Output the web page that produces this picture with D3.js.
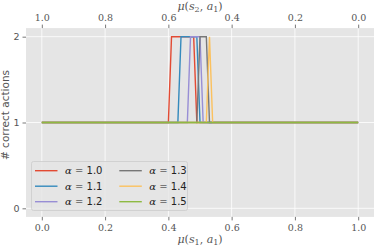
<!DOCTYPE html>
<html><head><meta charset="utf-8">
<script src="https://cdn.jsdelivr.net/npm/d3@7"></script>
<style>body{margin:0;background:#fff}svg{display:block}</style>
</head><body>
<script>
const alphas = ["1.0","1.1","1.2","1.3","1.4","1.5"];
const colors = ["#E24A33","#348ABD","#988ED5","#777777","#FBC15E","#8EBA42"];
// interval of mu(s1,a1) where # correct actions = 2 (sampled every 0.01), else 1
const peakStart = [0.41,0.44,0.47,0.50,0.53,null];
const peakEnd   = [0.48,0.49,0.50,0.52,0.53,null];
const xTicks = [0,0.2,0.4,0.6,0.8,1.0];
const yTicks = [0,1,2];

const W=374,H=248;
const svg=d3.select("body").append("svg").attr("width",W).attr("height",H);
const x=d3.scaleLinear().domain([-0.05,1.05]).range([26,374]);
const y=d3.scaleLinear().domain([-0.1,2.1]).range([216.9,28.1]);
const xTop=d3.scaleLinear().domain([1.05,-0.05]).range([26,374]);

svg.append("rect").attr("x",x(-0.05)).attr("y",y(2.1)).attr("width",x(1.05)-x(-0.05)).attr("height",y(-0.1)-y(2.1)).attr("fill","#E5E5E5");
const g=svg.append("g");
xTicks.forEach(t=>g.append("line").attr("x1",x(t)).attr("x2",x(t)).attr("y1",y(2.1)).attr("y2",y(-0.1)).attr("stroke","#fff").attr("stroke-width",0.8));
yTicks.forEach(t=>g.append("line").attr("x1",x(-0.05)).attr("x2",x(1.05)).attr("y1",y(t)).attr("y2",y(t)).attr("stroke","#fff").attr("stroke-width",0.8));

function styleAxis(sel,font,size){
  sel.select(".domain").remove();
  sel.selectAll(".tick line").attr("stroke","#555").attr("stroke-width",0.8);
  sel.selectAll(".tick text").attr("fill","#555").style("font-family",font).style("font-size",size+"px");
}
const fmt=d3.format(".1f");
const ax=svg.append("g").attr("transform",`translate(0,${y(-0.1)})`).call(d3.axisBottom(x).tickValues(xTicks).tickFormat(fmt).tickSize(3.5).tickPadding(4));
styleAxis(ax,"'DejaVu Serif',serif",9.5);
const at=svg.append("g").attr("transform",`translate(0,${y(2.1)})`).call(d3.axisTop(xTop).tickValues(xTicks).tickFormat(fmt).tickSize(3.5).tickPadding(4));
styleAxis(at,"'DejaVu Serif',serif",9.5);
const ay=svg.append("g").attr("transform",`translate(${x(-0.05)},0)`).call(d3.axisLeft(y).tickValues(yTicks).tickFormat(d3.format("d")).tickSize(3.5).tickPadding(3));
styleAxis(ay,"'DejaVu Sans',sans-serif",9.5);

// data sampled on 0.00..1.00 step 0.01
const grid=d3.range(0,101).map(i=>i/100);
const line=d3.line().x(d=>x(d[0])).y(d=>y(d[1]));
alphas.forEach((a,i)=>{
  const pts=grid.map(v=>{
    const s=peakStart[i],e=peakEnd[i];
    const val=(s!==null && v>=s-1e-9 && v<=e+1e-9)?2:1;
    return [v,val];
  });
  svg.append("path").datum(pts).attr("d",line).attr("fill","none").attr("stroke",colors[i]).attr("stroke-width",1.4);
});

// labels
svg.append("text").attr("x",200).attr("y",243).attr("text-anchor","middle").attr("fill","#555")
  .style("font-family","'DejaVu Serif',serif").style("font-size","11px")
  .html('<tspan font-style="italic">μ</tspan>(<tspan font-style="italic">s</tspan><tspan font-size="8px" dy="2">1</tspan><tspan dy="-2">, </tspan><tspan font-style="italic">a</tspan><tspan font-size="8px" dy="2">1</tspan><tspan dy="-2">)</tspan>');
svg.append("text").attr("x",200).attr("y",10).attr("text-anchor","middle").attr("fill","#555")
  .style("font-family","'DejaVu Serif',serif").style("font-size","11px")
  .html('<tspan font-style="italic">μ</tspan>(<tspan font-style="italic">s</tspan><tspan font-size="8px" dy="2">2</tspan><tspan dy="-2">, </tspan><tspan font-style="italic">a</tspan><tspan font-size="8px" dy="2">1</tspan><tspan dy="-2">)</tspan>');
svg.append("text").attr("transform","translate(9,115) rotate(-90)").attr("text-anchor","middle").attr("fill","#555")
  .style("font-family","'DejaVu Sans',sans-serif").style("font-size","10.5px").text("# correct actions");

// legend
const lg=svg.append("g");
lg.append("rect").attr("x",31.5).attr("y",161.5).attr("width",156).attr("height",49).attr("rx",2)
  .attr("fill","#E5E5E5").attr("fill-opacity",0.8).attr("stroke","#CCCCCC").attr("stroke-width",0.8);
alphas.forEach((a,i)=>{
  const col=Math.floor(i/3), row=i%3;
  const lx=35+col*84.3, ly=170.7+row*15.5;
  lg.append("line").attr("x1",lx).attr("x2",lx+22.5).attr("y1",ly).attr("y2",ly).attr("stroke",colors[i]).attr("stroke-width",1.4);
  lg.append("text").attr("x",lx+30).attr("y",ly+3.5).attr("fill","#222").style("font-size","10px")
    .html(`<tspan font-family="'DejaVu Serif',serif" font-style="italic">α</tspan><tspan font-family="'DejaVu Serif',serif"> = </tspan><tspan font-family="'DejaVu Sans',sans-serif">${a}</tspan>`);
});
</script>
</body></html>
